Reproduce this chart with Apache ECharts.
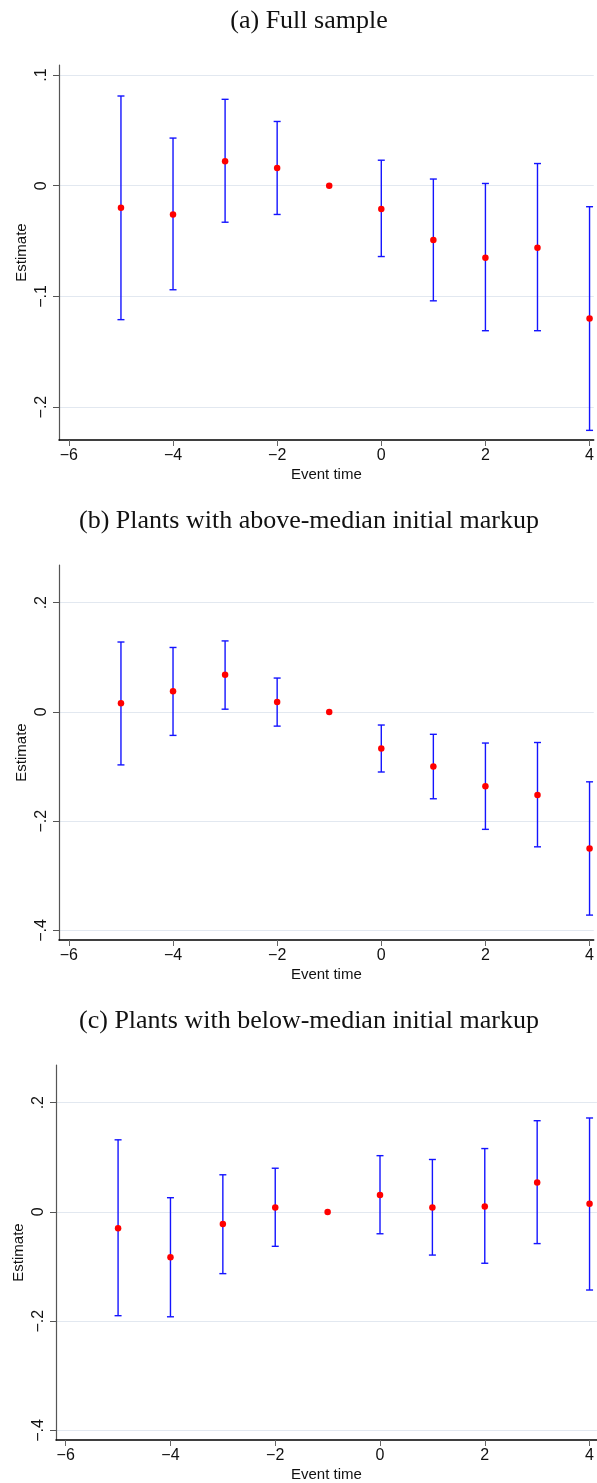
<!DOCTYPE html>
<html>
<head>
<meta charset="utf-8">
<title>Event study</title>
<script src="https://cdn.jsdelivr.net/npm/echarts@6/dist/echarts.min.js"></script>
<style>
  html, body { margin: 0; padding: 0; background: #fff; }
  #chart { width: 597px; height: 1483px; }
</style>
</head>
<body>
<div id="chart"></div>
<script>
const eventTime = [-5, -4, -3, -2, -1, 0, 1, 2, 3, 4]

const fullEst = [-0.020, -0.026, 0.022, 0.016, 0, -0.021, -0.049, -0.065, -0.056, -0.120]
const fullHi = [0.081, 0.043, 0.078, 0.058, null, 0.023, 0.006, 0.002, 0.020, -0.019]
const fullLo = [-0.121, -0.094, -0.033, -0.026, null, -0.064, -0.104, -0.131, -0.131, -0.221]

const aboveEst = [0.016, 0.038, 0.068, 0.018, 0, -0.067, -0.100, -0.136, -0.152, -0.250]
const aboveHi = [0.128, 0.118, 0.130, 0.062, null, -0.024, -0.041, -0.057, -0.056, -0.128]
const aboveLo = [-0.097, -0.043, 0.005, -0.026, null, -0.110, -0.159, -0.215, -0.247, -0.372]

const belowEst = [-0.030, -0.083, -0.022, 0.008, 0, 0.031, 0.008, 0.010, 0.054, 0.015]
const belowHi = [0.132, 0.026, 0.068, 0.080, null, 0.103, 0.096, 0.116, 0.167, 0.172]
const belowLo = [-0.190, -0.192, -0.113, -0.063, null, -0.040, -0.079, -0.094, -0.058, -0.143]

const xTicks = [-6, -4, -2, 0, 2, 4]
const yTicksFull = [-0.2, -0.1, 0, 0.1]
const yTicksSplit = [-0.4, -0.2, 0, 0.2]

const titles = [
  '(a) Full sample',
  '(b) Plants with above-median initial markup',
  '(c) Plants with below-median initial markup'
]

const panels = [
  { est: fullEst, hi: fullHi, lo: fullLo, yTicks: yTicksFull },
  { est: aboveEst, hi: aboveHi, lo: aboveLo, yTicks: yTicksSplit },
  { est: belowEst, hi: belowHi, lo: belowLo, yTicks: yTicksSplit }
]

// plot boxes
const layout = [
  { left: 59, top: 65, xmin: -6.19, xmax: 4.08, ymin: -0.2297, ymax: 0.109, titleTop: 8 },
  { left: 59, top: 565, xmin: -6.19, xmax: 4.08, ymin: -0.4176, ymax: 0.269, titleTop: 508 },
  { left: 56, top: 1065, xmin: -6.185, xmax: 4.14, ymin: -0.4176, ymax: 0.269, titleTop: 1008 }
]

const sans = 'Liberation Sans'

function fmtNum (v) {
  if (Math.abs(v) < 1e-9) return '0'
  let s = String(Math.abs(Math.round(v * 10) / 10)).replace(/^0/, '')
  if (Number.isInteger(v)) s = String(Math.abs(v))
  return (v < 0 ? '\u2212' : '') + s
}

const chart = echarts.init(document.getElementById('chart'))

const option = {
  animation: false,
  backgroundColor: '#fff',
  title: [],
  grid: [],
  xAxis: [],
  yAxis: [],
  series: []
}

panels.forEach((p, i) => {
  const l = layout[i]
  option.title.push({
    text: titles[i],
    left: 309,
    textAlign: 'center',
    top: l.titleTop,
    padding: 0,
    textStyle: { fontFamily: 'Liberation Serif', fontWeight: 'normal', fontSize: 26, color: '#111' }
  })
  option.grid.push({
    left: l.left,
    top: l.top,
    width: 597 - l.left,
    height: 375
  })
  option.xAxis.push({
    gridIndex: i,
    type: 'value',
    min: l.xmin,
    max: l.xmax,
    name: 'Event time',
    nameLocation: 'middle',
    nameGap: 27,
    nameMoveOverlap: false,
    nameTextStyle: { fontFamily: sans, fontSize: 15, color: '#111' },
    axisLine: { onZero: false, lineStyle: { color: '#000', width: 1.5 } },
    axisTick: { show: true, length: 6, lineStyle: { color: '#666' }, customValues: xTicks },
    axisLabel: { fontFamily: sans, fontSize: 16, color: '#111', margin: 8, customValues: xTicks, formatter: fmtNum },
    splitLine: { show: false }
  })
  option.yAxis.push({
    gridIndex: i,
    type: 'value',
    min: l.ymin,
    max: l.ymax,
    name: 'Estimate',
    nameLocation: 'middle',
    nameRotate: 90,
    nameGap: 30,
    nameMoveOverlap: false,
    nameTextStyle: { fontFamily: sans, fontSize: 15, color: '#111' },
    axisLine: { show: true, onZero: false, lineStyle: { color: '#555', width: 1.2 } },
    axisTick: { show: true, length: 6, lineStyle: { color: '#555' }, customValues: p.yTicks },
    axisLabel: { fontFamily: sans, fontSize: 16, color: '#111', rotate: 90, margin: 9, customValues: p.yTicks, formatter: fmtNum },
    splitLine: { show: true, lineStyle: { color: '#e2e8f0', width: 1.2 } }
  })

  const barData = eventTime.map((t, k) => [t, p.lo[k], p.hi[k]]).filter(d => d[1] !== null)
  option.series.push({
    type: 'custom',
    xAxisIndex: i,
    yAxisIndex: i,
    data: barData,
    clip: false,
    renderItem: (params, api) => {
      const top = api.coord([api.value(0), api.value(2)])
      const bot = api.coord([api.value(0), api.value(1)])
      const half = 3.5
      const style = { stroke: '#1414ff', lineWidth: 1.4 }
      return {
        type: 'group',
        children: [
          { type: 'line', shape: { x1: top[0], y1: top[1], x2: bot[0], y2: bot[1] }, style },
          { type: 'line', shape: { x1: top[0] - half, y1: top[1], x2: top[0] + half, y2: top[1] }, style },
          { type: 'line', shape: { x1: bot[0] - half, y1: bot[1], x2: bot[0] + half, y2: bot[1] }, style }
        ]
      }
    },
    z: 2
  })
  option.series.push({
    type: 'scatter',
    xAxisIndex: i,
    yAxisIndex: i,
    data: eventTime.map((t, k) => [t, p.est[k]]),
    symbol: 'circle',
    symbolSize: 6.5,
    itemStyle: { color: '#ff0000', opacity: 1 },
    z: 3
  })
})

chart.setOption(option)
</script>
</body>
</html>
